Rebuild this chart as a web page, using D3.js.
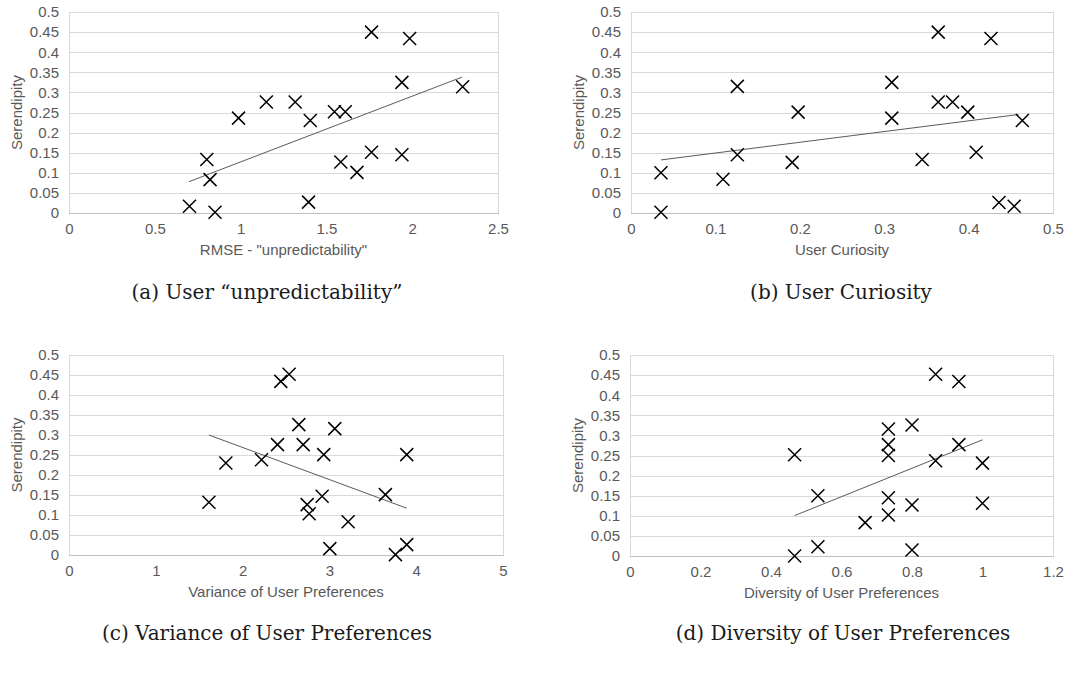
<!DOCTYPE html>
<html>
<head>
<meta charset="utf-8">
<script src="https://cdn.jsdelivr.net/npm/d3@7"></script>
<style>
  body { margin: 0; background: #fff; }
  svg { display: block; }
</style>
</head>
<body>
<div id="chart"></div>
<script>
// Values (serendipity vs. user measure)
const rmseX = [1.763, 1.985, 1.940, 2.294, 1.150, 1.318, 0.988, 1.406, 1.547, 1.610, 0.803, 0.822, 0.702, 0.851, 1.396, 1.584, 1.678, 1.763, 1.940];
const rmseY = [0.450, 0.434, 0.325, 0.314, 0.276, 0.276, 0.236, 0.230, 0.252, 0.252, 0.133, 0.083, 0.017, 0.002, 0.027, 0.127, 0.101, 0.151, 0.145];
const rmseTrend = [[0.70, 0.078], [2.29, 0.338]];

const curiosityX = [0.364, 0.4265, 0.309, 0.126, 0.198, 0.364, 0.381, 0.399, 0.309, 0.4637, 0.409, 0.126, 0.345, 0.191, 0.0355, 0.109, 0.436, 0.454, 0.0355];
const curiosityY = [0.450, 0.434, 0.325, 0.315, 0.251, 0.276, 0.276, 0.251, 0.236, 0.230, 0.151, 0.145, 0.133, 0.126, 0.100, 0.084, 0.026, 0.017, 0.002];
const curiosityTrend = [[0.0355, 0.132], [0.459, 0.245]];

const varianceX = [2.536, 2.440, 2.648, 3.062, 2.402, 2.698, 2.935, 3.891, 2.218, 1.807, 3.645, 2.916, 1.612, 2.744, 2.767, 3.216, 3.891, 3.005, 3.761];
const varianceY = [0.452, 0.434, 0.326, 0.316, 0.276, 0.276, 0.251, 0.251, 0.238, 0.230, 0.151, 0.147, 0.132, 0.126, 0.103, 0.083, 0.026, 0.016, 0.001];
const varianceTrend = [[1.612, 0.300], [3.891, 0.117]];

const diversityX = [0.867, 0.933, 0.800, 0.733, 0.733, 0.933, 0.467, 0.733, 0.867, 1.000, 0.533, 0.733, 1.000, 0.800, 0.733, 0.667, 0.533, 0.800, 0.467];
const diversityY = [0.452, 0.434, 0.326, 0.316, 0.277, 0.277, 0.252, 0.250, 0.237, 0.231, 0.150, 0.145, 0.131, 0.127, 0.102, 0.083, 0.023, 0.015, 0.000];
const diversityTrend = [[0.467, 0.1005], [1.0, 0.289]];

const yTicks = [0, 0.05, 0.1, 0.15, 0.2, 0.25, 0.3, 0.35, 0.4, 0.45, 0.5];
const rmseTicks = [0, 0.5, 1, 1.5, 2, 2.5];
const curiosityTicks = [0, 0.1, 0.2, 0.3, 0.4, 0.5];
const varianceTicks = [0, 1, 2, 3, 4, 5];
const diversityTicks = [0, 0.2, 0.4, 0.6, 0.8, 1, 1.2];

const xTitles = ['RMSE - "unpredictability"', "User Curiosity", "Variance of User Preferences", "Diversity of User Preferences"];
const captions = ["(a) User \u201Cunpredictability\u201D", "(b) User Curiosity", "(c) Variance of User Preferences", "(d) Diversity of User Preferences"];
const yTitle = "Serendipity";

const W = 1091, H = 675;
const gray = "#595959";

const svg = d3.select("#chart")
  .append("svg")
    .attr("width", W)
    .attr("height", H);

// plot rectangles [left, right, top, bottom] and caption anchors
const panels = [
  { xs: rmseX, ys: rmseY, trend: rmseTrend, ticks: rmseTicks, box: [69, 498, 12, 213], cap: [267, 299] },
  { xs: curiosityX, ys: curiosityY, trend: curiosityTrend, ticks: curiosityTicks, box: [631, 1053, 12, 213], cap: [841, 299] },
  { xs: varianceX, ys: varianceY, trend: varianceTrend, ticks: varianceTicks, box: [69, 503, 355, 555], cap: [267, 640] },
  { xs: diversityX, ys: diversityY, trend: diversityTrend, ticks: diversityTicks, box: [630, 1053, 355, 556], cap: [843, 640] }
];

panels.forEach((p, i) => {
  const [l, r, t, b] = p.box;
  const x = d3.scaleLinear().domain(d3.extent(p.ticks)).range([l, r]);
  const y = d3.scaleLinear().domain([0, 0.5]).range([b, t]);
  const g = svg.append("g");

  // Horizontal gridlines
  g.append("g")
    .selectAll("line")
    .data(yTicks.slice(1))
    .enter().append("line")
      .attr("x1", l).attr("x2", r)
      .attr("y1", d => Math.round(y(d)) + 0.5)
      .attr("y2", d => Math.round(y(d)) + 0.5)
      .attr("stroke", "#d9d9d9");

  // Plot border (left and right edges)
  g.append("line")
    .attr("x1", l + 0.5).attr("x2", l + 0.5)
    .attr("y1", t).attr("y2", b)
    .attr("stroke", "#d9d9d9");
  g.append("line")
    .attr("x1", r + 0.5).attr("x2", r + 0.5)
    .attr("y1", t).attr("y2", b)
    .attr("stroke", "#d9d9d9");

  // Y axis
  const yAxis = g.append("g")
    .attr("transform", `translate(${l},0)`)
    .call(d3.axisLeft(y).tickValues(yTicks).tickSize(0).tickPadding(10).tickFormat(d3.format("~g")));
  yAxis.select(".domain").remove();

  // X axis
  const xAxis = g.append("g")
    .attr("transform", `translate(0,${b})`)
    .call(d3.axisBottom(x).tickValues(p.ticks).tickSize(0).tickPadding(10).tickFormat(d3.format("~g")));
  xAxis.select(".domain")
    .attr("stroke", "#bfbfbf")
    .attr("d", `M${l},0.5H${r + 1}`);

  g.selectAll(".tick text")
    .attr("fill", gray)
    .style("font-family", "Liberation Sans, Arial, sans-serif")
    .style("font-size", "15px");

  // Trendline
  g.append("line")
    .attr("x1", x(p.trend[0][0])).attr("y1", y(p.trend[0][1]))
    .attr("x2", x(p.trend[1][0])).attr("y2", y(p.trend[1][1]))
    .attr("stroke", "#5a5a5a")
    .attr("stroke-width", 1);

  // X markers
  const pts = p.xs.map((v, k) => ({ x: v, y: p.ys[k] }));
  const s = 6.5;
  g.append("g")
    .selectAll("path")
    .data(pts)
    .enter().append("path")
      .attr("d", d => {
        const cx = x(d.x), cy = y(d.y);
        return `M${cx - s},${cy - s}L${cx + s},${cy + s}M${cx - s},${cy + s}L${cx + s},${cy - s}`;
      })
      .attr("stroke", "#000")
      .attr("stroke-width", 1.5)
      .attr("fill", "none");

  // Axis titles
  g.append("text")
    .attr("x", (l + r) / 2)
    .attr("y", b + 42)
    .attr("text-anchor", "middle")
    .attr("fill", gray)
    .style("font-family", "Liberation Sans, Arial, sans-serif")
    .style("font-size", "15px")
    .text(xTitles[i]);

  g.append("text")
    .attr("transform", `translate(${l - 47},${(t + b) / 2}) rotate(-90)`)
    .attr("text-anchor", "middle")
    .attr("fill", gray)
    .style("font-family", "Liberation Sans, Arial, sans-serif")
    .style("font-size", "15px")
    .text(yTitle);

  // Caption
  svg.append("text")
    .attr("x", p.cap[0])
    .attr("y", p.cap[1])
    .attr("text-anchor", "middle")
    .attr("fill", "#1a1a1a")
    .style("font-family", "DejaVu Serif, serif")
    .style("font-size", "20px")
    .text(captions[i]);
});
</script>
</body>
</html>
